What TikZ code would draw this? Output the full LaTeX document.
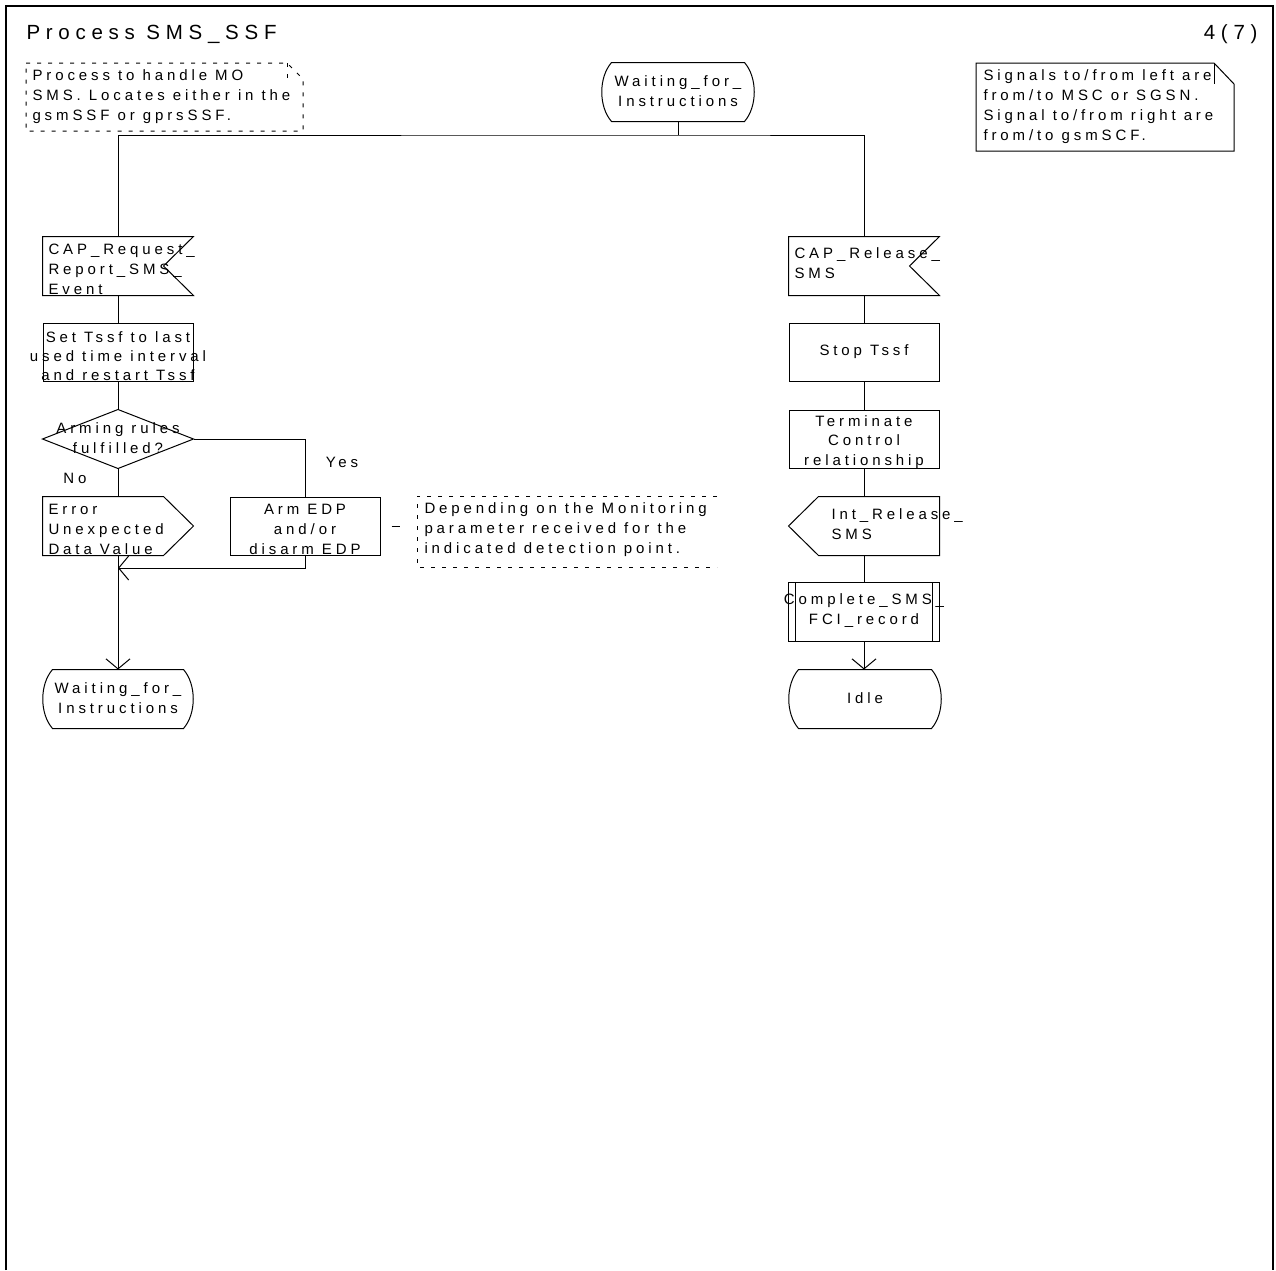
\documentclass[tikz,border=0pt]{standalone}
\usepackage{fontspec}
\newfontfamily\sdlfont{Liberation Sans}[LetterSpace=26]
\newfontfamily\sdltitlefont{Liberation Sans}[LetterSpace=28]
\usetikzlibrary{arrows.meta,calc}
\newcommand\sdlstate[1]{\draw ($(#1.north west)+(10,0)$) -- ($(#1.north east)+(-10,0)$) .. controls ($(#1.north east)+(3,15)$) and ($(#1.south east)+(3,-15)$) .. ($(#1.south east)+(-10,0)$) -- ($(#1.south west)+(10,0)$) .. controls ($(#1.south west)+(-3,-15)$) and ($(#1.north west)+(-3,15)$) .. cycle;}
\newcommand\sdlinput[1]{\draw (#1.north west) -- (#1.north east) -- ($(#1.east)+(-30,0)$) -- (#1.south east) -- (#1.south west) -- cycle;}
\newcommand\sdloutR[1]{\draw (#1.north west) -- ($(#1.north east)+(-30,0)$) -- (#1.east) -- ($(#1.south east)+(-30,0)$) -- (#1.south west) -- cycle;}
\newcommand\sdloutL[1]{\draw ($(#1.north west)+(30,0)$) -- (#1.north east) -- (#1.south east) -- ($(#1.south west)+(30,0)$) -- (#1.west) -- cycle;}
\newcommand\sdldiamond[1]{\draw (#1.north) -- (#1.east) -- (#1.south) -- (#1.west) -- cycle;}
\newcommand\sdlproc[1]{\draw (#1.north west) rectangle (#1.south east);
  \draw ($(#1.north west)+(7,0)$) -- ($(#1.south west)+(7,0)$);
  \draw ($(#1.north east)+(-7,0)$) -- ($(#1.south east)+(-7,0)$);}
\begin{document}
\begin{tikzpicture}[x=1pt,y=-1pt,line width=1pt,
  hid/.style={draw=none,rectangle,inner sep=0pt,minimum width=150pt,minimum height=58pt},
  taskbox/.style={hid,draw},
  txt/.style={inner sep=0pt,font=\sdlfont\fontsize{15}{20}\selectfont,align=center},
  ltxt/.style={txt,align=left,anchor=west},
  cmtline/.style={dash pattern=on 4pt off 7pt},
  flow/.style={-{Straight Barb[length=10pt,width=24pt]}}
]
\useasboundingbox (0,0) rectangle (1276,1270);
% frame
\draw[line width=1.3pt] (6,1270) -- (6,6) -- (1273,6) -- (1273,1270);
\node[anchor=west,inner sep=0pt,font=\sdltitlefont\fontsize{20.5}{24}\selectfont] (title) at (26,34) {Process SMS\_SSF};
\node[anchor=east,inner sep=0pt,font=\sdltitlefont\fontsize{20.5}{24}\selectfont] (page) at (1258,34) {4(7)};

% comment top-left
\draw[cmtline] (26,63) -- (287,63) -- (303,79) -- (303,131) -- (26,131) -- cycle;
\draw[cmtline] (287,63) -- (287,79);
\node[ltxt] (c1) at (32,97) {Process to handle MO\\SMS. Locates either in the\\gsmSSF or gprsSSF.};

% note top-right
\draw (976,63) -- (1214,63) -- (1234,84) -- (1234,151) -- (976,151) -- cycle;
\draw (1214,63) -- (1214,84);
\node[ltxt] (c3) at (983,107) {Signals to/from left are\\from/to MSC or SGSN.\\Signal to/from right are\\from/to gsmSCF.};

% start state
\node[hid,minimum width=152pt] (start) at (678,92) {};
\sdlstate{start}
\node[txt] (startt) at (678,91) {Waiting\_for\_\\Instructions};

% left column
\node[hid] (in1) at (118,266) {};
\sdlinput{in1}
\node[ltxt] (in1t) at (48,269) {CAP\_Request\_\\Report\_SMS\_\\Event};

\node[taskbox] (task1) at (118,352) {};
\node[txt,font=\sdlfont\fontsize{15}{19}\selectfont] (task1t) at (118,356) {Set Tssf to last\\used time interval\\and restart Tssf};

\node[hid] (dec) at (118,439) {};
\sdldiamond{dec}
\node[txt] (dect) at (118,438) {Arming rules\\fulfilled?};

\node[hid] (err) at (118,526) {};
\sdloutR{err}
\node[ltxt] (errt) at (48,529) {Error\\Unexpected\\Data Value};

\node[taskbox] (arm) at (305,526) {};
\node[txt] (armt) at (305,529) {Arm EDP\\and/or\\disarm EDP};

\draw[cmtline] (717,496) -- (417,496) -- (417,567) -- (717,567);
\coordinate (c2w) at (417,526);
\node[ltxt] (c2) at (424,530) {Depending on the Monitoring\\parameter received for the\\indicated detection point.};

\node[hid] (endL) at (118,699) {};
\sdlstate{endL}
\node[txt] (endLt) at (118,698) {Waiting\_for\_\\Instructions};

\node[txt] (yes) at (342,462) {Yes};
\node[txt] (no) at (75,478) {No};

% right column
\node[hid] (in2) at (864,266) {};
\sdlinput{in2}
\node[ltxt] (in2t) at (794,263) {CAP\_Release\_\\SMS};

\node[taskbox] (stop) at (864,352) {};
\node[txt] (stopt) at (864,352) {Stop Tssf};

\node[taskbox] (term) at (864,439) {};
\node[txt,font=\sdlfont\fontsize{15}{19.5}\selectfont] (termt) at (864,442) {Terminate\\Control\\relationship};

\node[hid] (out2) at (864,526) {};
\sdloutL{out2}
\node[ltxt] (out2t) at (831,524) {Int\_Release\_\\SMS};

\node[hid] (proc) at (864,612) {};
\sdlproc{proc}
\node[txt] (proct) at (864,611) {Complete\_SMS\_\\FCI\_record};

\node[hid,minimum width=152pt] (idle) at (865,699) {};
\sdlstate{idle}
\node[txt] (idlet) at (865,698) {Idle};

% connectors
\coordinate (bus) at (678,135);
\coordinate (merge) at (118,568);
\draw (start.south) -- (bus);
\draw (in1.north) |- (bus) -| (in2.north);
\draw (in1.south) -- (task1.north);
\draw (task1.south) -- (dec.north);
\draw (dec.east) -| (arm.north);
\draw (dec.south) -- (err.north);
\draw[flow] (arm.south) |- (merge);
\draw[flow] (err.south) -- (endL.north);
\draw[dash pattern=on 0pt off 11pt on 8pt off 40pt] (arm.east) -- (c2w);
\draw (in2.south) -- (stop.north);
\draw (stop.south) -- (term.north);
\draw (term.south) -- (out2.north);
\draw (out2.south) -- (proc.north);
\draw[flow] (proc.south) -- (idle.north -| proc.south);
\end{tikzpicture}
\end{document}
